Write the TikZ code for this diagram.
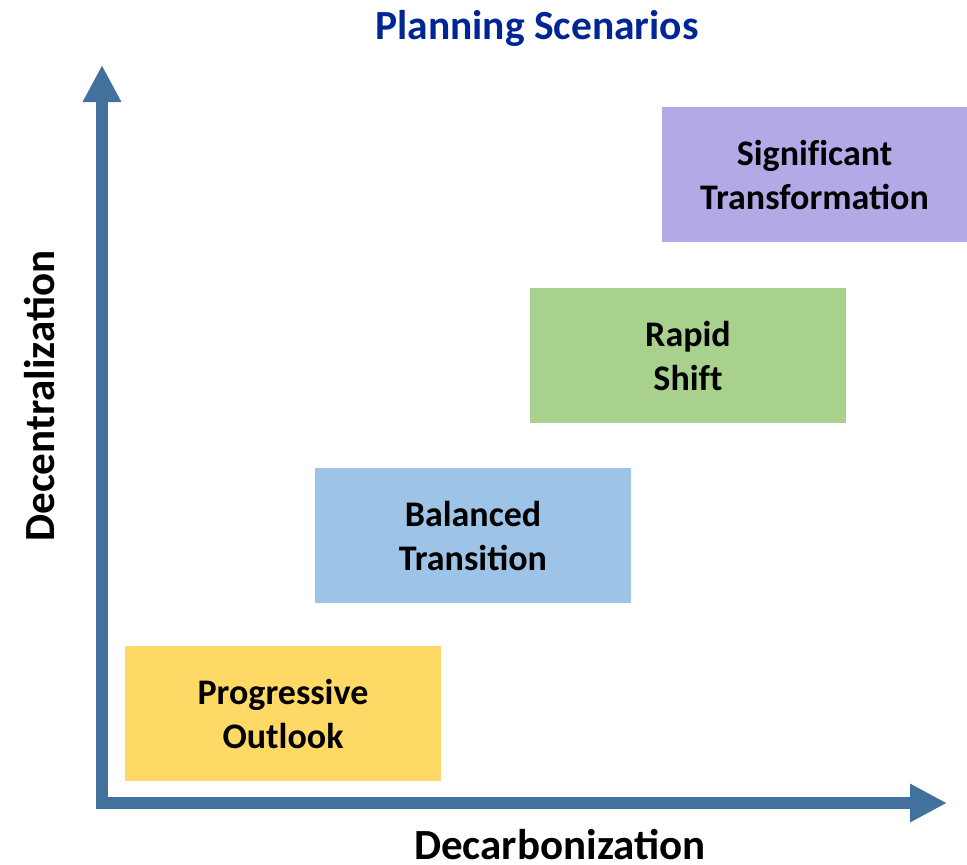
\documentclass[tikz,border=0pt]{standalone}
\usepackage{fontspec}
\setmainfont{Carlito}
\usetikzlibrary{arrows.meta, positioning}
\definecolor{axisblue}{RGB}{65,113,156}
\definecolor{titleblue}{RGB}{0,38,150}
\definecolor{boxyellow}{RGB}{255,217,102}
\definecolor{boxblue}{RGB}{157,195,230}
\definecolor{boxgreen}{RGB}{169,209,142}
\definecolor{boxpurple}{RGB}{180,168,230}
\newcommand{\nolig}{\kern0pt}
\tikzset{
  x=1pt, y=-1pt,
  scenario/.style={minimum width=316pt, minimum height=135pt, inner sep=0pt,
    align=center, font=\fontsize{36}{44}\selectfont\bfseries},
  axis/.style={draw=axisblue, line width=12pt, miter limit=10,
    arrows={Triangle[length=37pt, width=36pt]-Triangle[length=37pt, width=36pt]}},
  axislabel/.style={font=\fontsize{43}{50}\selectfont\bfseries},
}
\begin{document}
\begin{tikzpicture}
  \useasboundingbox (0,0) rectangle (967,865);

  % title
  \node[font=\fontsize{41.5}{48}\selectfont\bfseries, text=titleblue] (title) at (537,28) {Planning Scenarios};

  % axes
  \coordinate (origin) at (102,803);
  \coordinate (ytip) at (102,65);
  \coordinate (xtip) at (947,803);
  \draw[axis] (ytip) -- (origin) -- (xtip);
  \node[axislabel, rotate=90] (ylabel) at (40,396) {Decentralization};
  \node[axislabel] (xlabel) at (560,845) {Decarbonization};

  % scenarios
  \node[scenario, fill=boxyellow] (po) at (283,713.5) {Progressive\\Outlook};
  \node[scenario, fill=boxblue] (bt) at (473,535.5) {Balanced\\Transition};
  \node[scenario, fill=boxgreen] (rs) at (688,355.5) {Rapid\\Shif\nolig t};
  \node[scenario, minimum width=305pt, fill=boxpurple] (st) at (814.5,174.5) {Signif\nolig icant\\Transformation};
\end{tikzpicture}
\end{document}
